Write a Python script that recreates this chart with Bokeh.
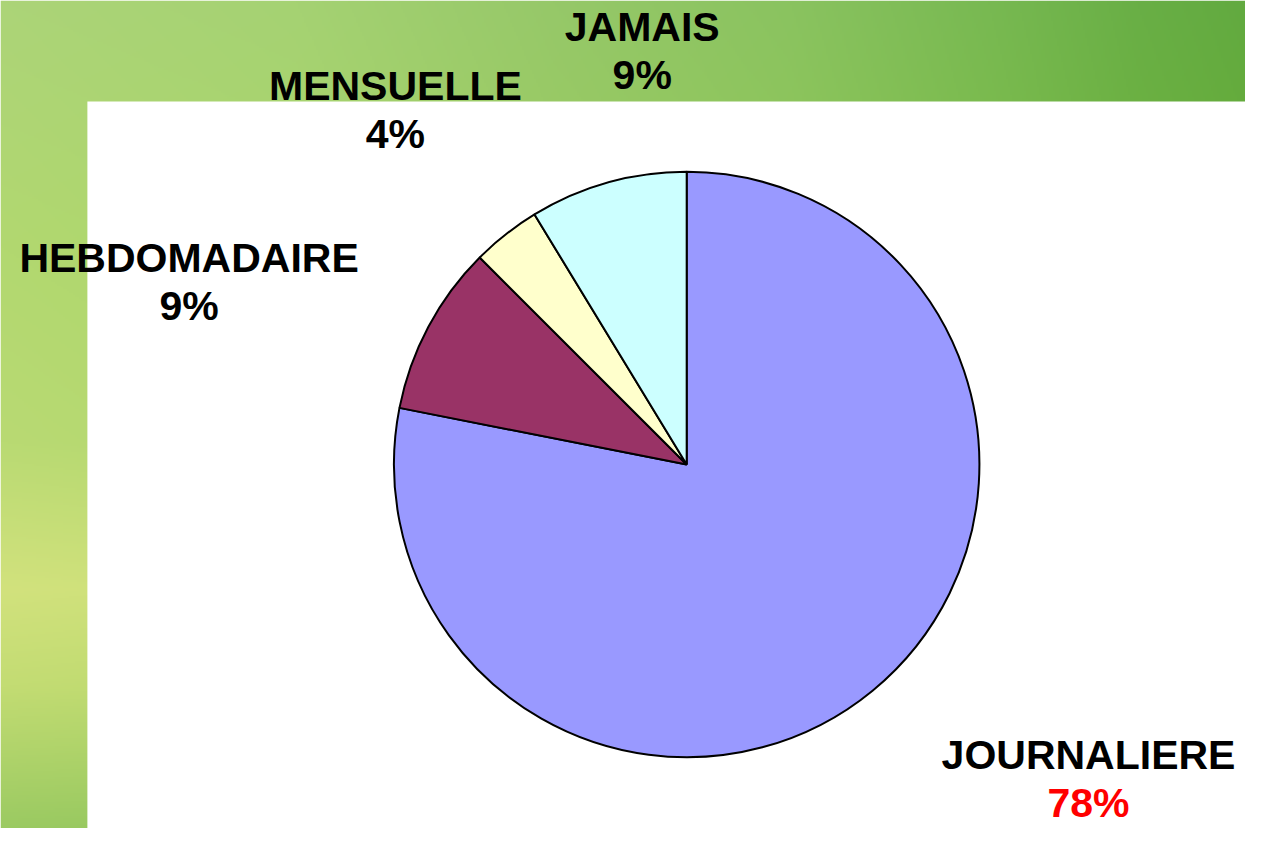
import math
import numpy as np
from bokeh.plotting import figure
from bokeh.models import Range1d, ColumnDataSource
from bokeh.embed import file_html
from bokeh.resources import INLINE
from bokeh.core.properties import value

# ---- data ----
categories = ["JOURNALIERE", "HEBDOMADAIRE", "MENSUELLE", "JAMAIS"]
shares = [78.1, 9.4, 3.8, 8.7]
pct_labels = ["78%", "9%", "4%", "9%"]
slice_colors = ["#9999FF", "#993366", "#FFFFCC", "#CCFFFF"]
pct_colors = ["#FF0000", "#000000", "#000000", "#000000"]

# ---- layout (reference pixel space, y measured from top) ----
REF_W, REF_H = 1261, 844
FIG_W, FIG_H = 1245, 828
CX, CY, R = 695, 473, 296.5
label_x = [1102, 191, 400, 650]
label_baseline = [785, 278, 103, 43]
LINE_GAP = 49
TEXT_SHIFT = 16   # compensate the renderer's baseline placement


def up(yref):
    return REF_H - yref


p = figure(width=FIG_W, height=FIG_H,
           x_range=Range1d(0, REF_W), y_range=Range1d(0, REF_H),
           output_backend="svg", toolbar_location=None, min_border=0)
p.axis.visible = False
p.grid.visible = False
p.outline_line_color = None
p.background_fill_color = "white"
p.border_fill_color = "white"

# ---- green background (smooth gradient) ----
nx, ny = REF_W // 2, REF_H // 2
xs = (np.arange(nx) + 0.5) * 2
ys_ref = REF_H - (np.arange(ny) + 0.5) * 2
hx = [0, 300, 560, 800, 1000, 1150, 1261]
hcol = np.array([(172, 212, 120), (165, 210, 115), (150, 200, 105), (138, 195, 96),
                 (120, 185, 82), (105, 175, 70), (98, 170, 64)], dtype=float)
vy = [0, 250, 450, 600, 700, 844]
vcol = np.array([(172, 212, 120), (178, 216, 112), (185, 218, 115), (210, 226, 125),
                 (195, 220, 115), (155, 202, 98)], dtype=float)
base = hcol[0]
img = np.empty((ny, nx), dtype=np.uint32)
view = img.view(dtype=np.uint8).reshape((ny, nx, 4))
for c in range(3):
    h = np.interp(xs, hx, hcol[:, c])
    v = np.interp(ys_ref, vy, vcol[:, c])
    val = h[None, :] + v[:, None] - base[c]
    view[:, :, c] = np.clip(val, 0, 255).astype(np.uint8)
view[:, :, 3] = 255
p.image_rgba(image=[img], x=0, y=0, dw=REF_W, dh=REF_H)

# white panel
p.quad(left=88, right=REF_W, bottom=0, top=up(103), fill_color="white", line_color=None)

# ---- pie ----
total = sum(shares)
cum = np.cumsum([0] + shares) / total
start = [math.pi / 2 - 2 * math.pi * cum[i] for i in range(len(shares))]
end = [math.pi / 2 - 2 * math.pi * cum[i + 1] for i in range(len(shares))]
src = ColumnDataSource(dict(cat=categories, start=start, end=end, color=slice_colors))
p.wedge(x=CX, y=up(CY), radius=R, start_angle="start", end_angle="end",
        direction="clock", fill_color="color", line_color="black", line_width=2,
        source=src)

# ---- labels ----
lab = ColumnDataSource(dict(
    x=label_x,
    y1=[up(b - TEXT_SHIFT) for b in label_baseline],
    y2=[up(b + LINE_GAP - TEXT_SHIFT) for b in label_baseline],
    name=categories, pct=pct_labels, pcolor=pct_colors))
common = dict(text_align="center", text_baseline="alphabetic",
              text_font=value("Liberation Sans"), text_font_style="bold",
              text_font_size="41px")
p.text(x="x", y="y1", text="name", text_color="black", source=lab, **common)
p.text(x="x", y="y2", text="pct", text_color="pcolor", source=lab, **common)

open("out.html", "w").write(file_html(p, INLINE))
